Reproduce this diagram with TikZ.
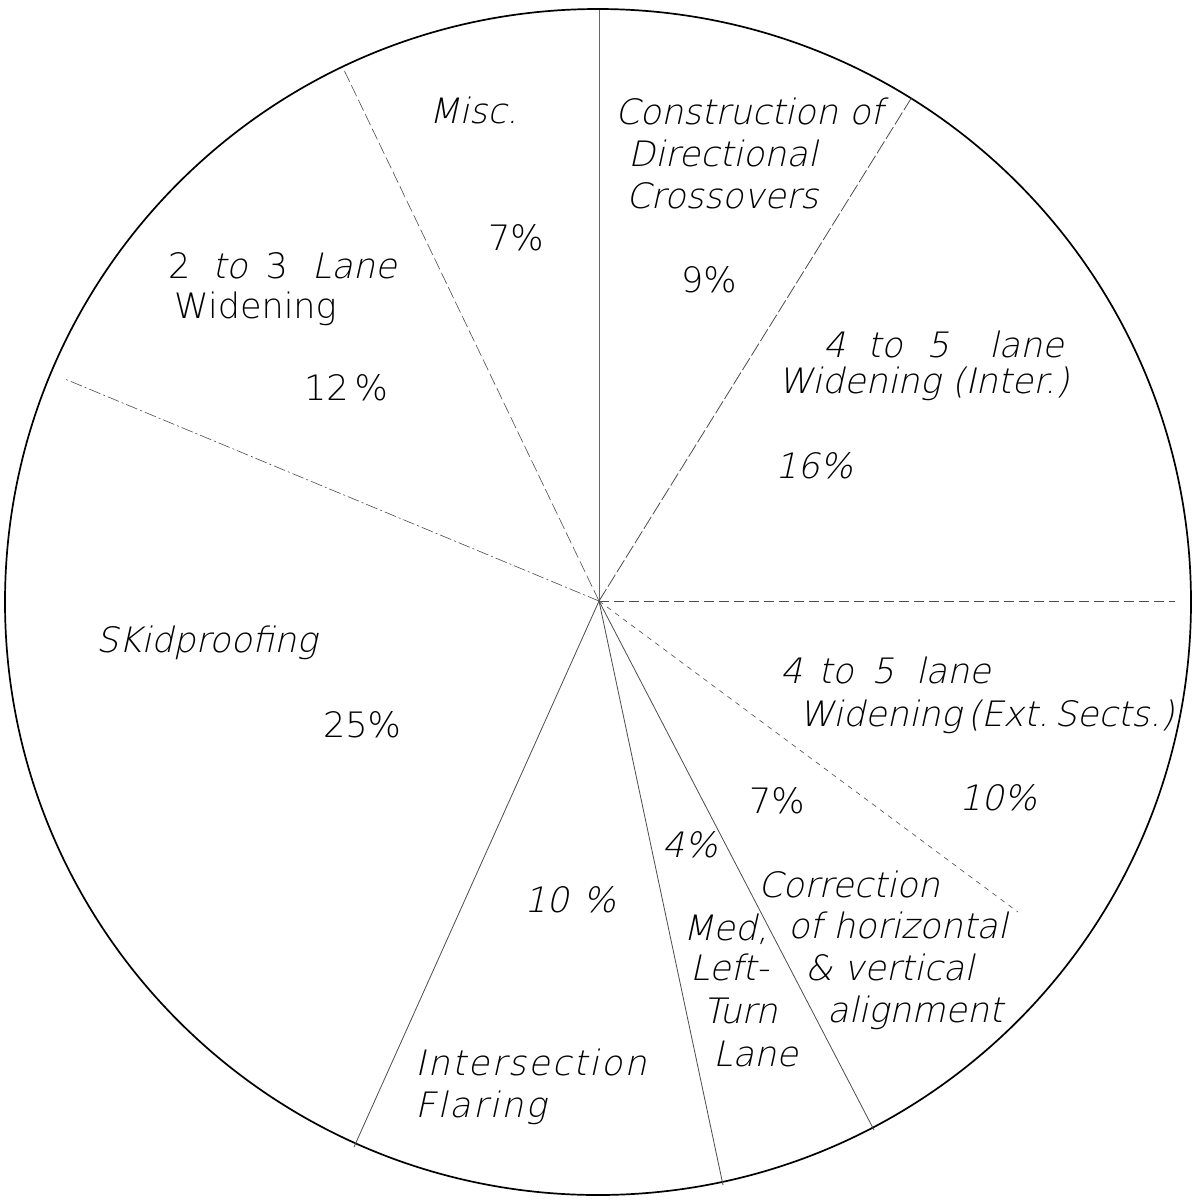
\documentclass[tikz,border=0pt]{standalone}
\usepackage{fontspec}
\IfFontExistsTF{DejaVuSans-ExtraLight.ttf}{%
  \newfontfamily\hand{DejaVuSans-ExtraLight.ttf}%
  \newfontfamily\handsl{DejaVuSans-ExtraLight.ttf}[FakeSlant=0.22]%
  \newfontfamily\handslw{DejaVuSans-ExtraLight.ttf}[FakeSlant=0.22,LetterSpace=6]%
}{%
  \newfontfamily\hand{DejaVu Sans}%
  \newfontfamily\handsl{DejaVu Sans}[FakeSlant=0.22]%
  \newfontfamily\handslw{DejaVu Sans}[FakeSlant=0.22,LetterSpace=6]%
}
\tikzset{
  lbl/.style={anchor=base west, inner sep=0pt, font=\hand\fontsize{35}{40}\selectfont},
  lblsl/.style={anchor=base west, inner sep=0pt, font=\handsl\fontsize{35}{40}\selectfont},
  lblw/.style={anchor=base west, inner sep=0pt, font=\handslw\fontsize{35}{40}\selectfont},
  spoke/.style={line width=0.8pt, draw=black!70},
  rim/.style={line width=1.7pt, draw=black},
}
\begin{document}
\begin{tikzpicture}[x=1pt,y=-1pt]
\useasboundingbox (0,0) rectangle (1193,1200);
\fill[white] (0,0) rectangle (1193,1200);
% circle
\coordinate (hub) at (599,601);
\draw[rim] (598,602) circle[radius=593pt];
% spoke ends
\coordinate (s1) at (599,10);
\coordinate (s2) at (912,97);
\coordinate (s3) at (1175,601);
\coordinate (s4) at (1018,912);
\coordinate (s5) at (874,1130);
\coordinate (s6) at (723,1185);
\coordinate (s7) at (354,1147);
\coordinate (s8) at (65,379);
\coordinate (s9) at (344,70);
\draw[spoke, draw=black!60] (hub) -- (s1);
\draw[spoke, dash pattern=on 14pt off 3pt] (hub) -- (s2);
\draw[spoke, dash pattern=on 10pt off 5pt] (hub) -- (s3);
\draw[spoke, line width=0.6pt, dash pattern=on 5pt off 5pt] (hub) -- (s4);
\draw[spoke] (hub) -- (s5);
\draw[spoke] (hub) -- (s6);
\draw[spoke] (hub) -- (s7);
\draw[spoke, line width=0.6pt, dash pattern=on 12pt off 3pt on 2pt off 3pt] (hub) -- (s8);
\draw[spoke, line width=0.6pt, dash pattern=on 12pt off 4pt] (hub) -- (s9);
% labels
\node[lblsl] (misc) at (429,123) {Misc.};
\node[lbl] (miscp) at (488,250) {7\%};
\node[lbl] (two1) at (168,278) {2\hspace{22pt}{\handsl to}\hspace{18pt}3\hspace{24pt}{\handsl Lane}};
\node[lbl] (two2) at (174,318) {Widening};
\node[lbl] (twop) at (304,400) {12\,\%};
\node[lblsl] (con1) at (615,124) {Construction of};
\node[lblsl] (con2) at (628,166) {Directional};
\node[lblsl] (con3) at (626,208) {Crossovers};
\node[lbl] (conp) at (681,292) {9\%};
\node[lblsl] (int1) at (823,357) {4\hspace{22pt}to\hspace{24pt}5\hspace{40pt}lane};
\node[lblsl] (int2) at (778,393) {Widening (Inter.)};
\node[lblsl] (intp) at (775,478) {16\%};
\node[lblsl] (ext1) at (780,683) {4\hspace{16pt}to\hspace{18pt}5\hspace{22pt}lane};
\node[lblsl] (ext2) at (799,726) {Widening\,(Ext.\,Sects.)};
\node[lblsl] (extp) at (959,810) {10\%};
\node[lbl] (corp) at (749,813) {7\%};
\node[lblsl] (cor1) at (758,897) {Correction};
\node[lblsl] (cor2) at (788,938) {of horizontal};
\node[lblsl] (cor3) at (805,980) {\& vertical};
\node[lblsl] (cor4) at (827,1022) {alignment};
\node[lblsl] (medp) at (662,857) {4\%};
\node[lblsl] (med1) at (683,940) {Med,};
\node[lblsl] (med2) at (690,980) {Left-};
\node[lblsl] (med3) at (703,1023) {Turn};
\node[lblsl] (med4) at (713,1066) {Lane};
\node[lblsl] (flap) at (524,912) {10\hspace{14pt}\%};
\node[lblw] (fla1) at (415,1075) {Intersection};
\node[lblw] (fla2) at (415,1117) {Flaring};
\node[lblsl] (skid) at (96,652) {SKidproofing};
\node[lbl] (skidp) at (323,737) {25\%};
\end{tikzpicture}
\end{document}
